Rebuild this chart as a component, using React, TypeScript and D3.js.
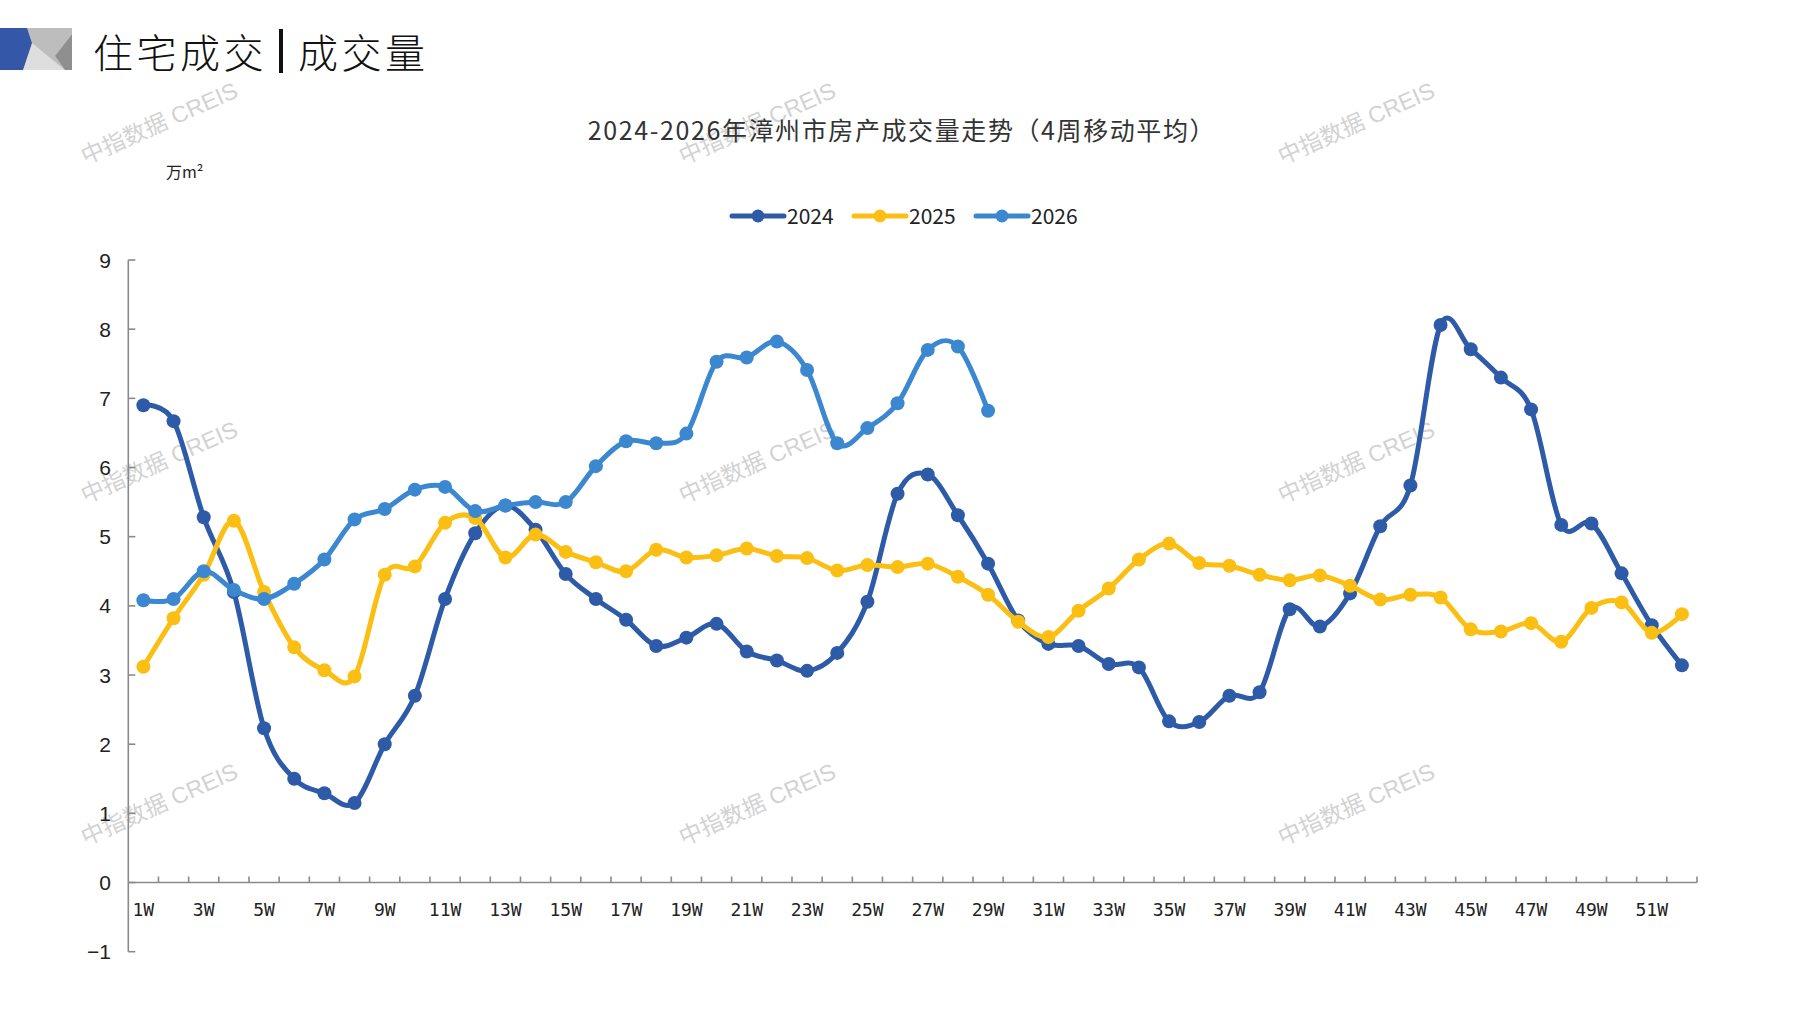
import React from 'react';
import * as d3 from 'd3';

const weeks = ['1W','2W','3W','4W','5W','6W','7W','8W','9W','10W','11W','12W','13W','14W','15W','16W','17W','18W','19W','20W','21W','22W','23W','24W','25W','26W','27W','28W','29W','30W','31W','32W','33W','34W','35W','36W','37W','38W','39W','40W','41W','42W','43W','44W','45W','46W','47W','48W','49W','50W','51W','52W'];

const s2024 = [6.9,6.67,5.28,4.2,2.23,1.5,1.29,1.15,2.0,2.7,4.1,5.05,5.45,5.1,4.46,4.1,3.8,3.42,3.54,3.74,3.34,3.21,3.06,3.32,4.06,5.62,5.9,5.31,4.61,3.79,3.45,3.42,3.16,3.11,2.33,2.32,2.7,2.75,3.95,3.7,4.18,5.15,5.74,8.06,7.71,7.3,6.84,5.17,5.19,4.47,3.72,3.14];
const s2025 = [3.12,3.82,4.45,5.23,4.2,3.4,3.07,2.98,4.45,4.57,5.2,5.27,4.7,5.03,4.78,4.63,4.5,4.81,4.7,4.73,4.83,4.72,4.69,4.51,4.59,4.56,4.61,4.42,4.16,3.77,3.55,3.93,4.25,4.67,4.9,4.62,4.58,4.45,4.37,4.44,4.29,4.09,4.16,4.12,3.66,3.63,3.75,3.48,3.97,4.05,3.61,3.88];
const s2026 = [4.08,4.1,4.5,4.23,4.1,4.32,4.67,5.25,5.4,5.68,5.72,5.37,5.45,5.5,5.5,6.02,6.38,6.35,6.49,7.53,7.59,7.82,7.41,6.35,6.57,6.93,7.7,7.75,6.82];

const seriesNames = ['2024','2025','2026'];
const seriesColors = ['#2D5BA8','#FBBF14','#3C88D0'];
const seriesData = [s2024, s2025, s2026];

const yTicks = [-1,0,1,2,3,4,5,6,7,8,9];
const xLabelWeeks = ['1W','3W','5W','7W','9W','11W','13W','15W','17W','19W','21W','23W','25W','27W','29W','31W','33W','35W','37W','39W','41W','43W','45W','47W','49W','51W'];

const watermarkX = [160, 758, 1357];
const watermarkY = [125, 464, 806];

const W = 1797, H = 1010;

export default function App() {
  const x = d3.scaleBand<string>().domain(weeks).range([128.3, 1697]).paddingInner(0).paddingOuter(0);
  const y = d3.scaleLinear().domain([-1, 9]).range([951.7, 260]);
  const cx = (w: string) => (x(w) as number) + x.bandwidth() / 2;
  const line = d3.line<number>().x((_, i) => cx(weeks[i])).y(d => y(d)).curve(d3.curveCardinal.tension(0));

  const axisColor = '#8a8a8a';
  const x0 = 128.3;
  const boundaries = weeks.map(w => (x(w) as number) + x.bandwidth());

  const legendX = [732, 854, 976];

  return (
    <svg width={W} height={H} style={{ position: 'absolute', left: 0, top: 0, background: '#fff' }}
      xmlns="http://www.w3.org/2000/svg">
      <rect x={0} y={0} width={W} height={H} fill="#fff" />
      {/* header decoration */}
      <g>
        <rect x={23} y={28} width={49} height={42} fill="#dedede" />
        <polygon points="27,28 72,28 72,34 55,56 65,70 32,43" fill="#bdbdbd" />
        <polygon points="72,34 72,70 65,70 55,56" fill="#8f8f8f" />
        <polygon points="0,28 27,28 32,43 23,70 0,70" fill="#3557A8" />
      </g>
      <text x={93} y={68} fontFamily="'Noto Sans CJK SC'" fontSize={40} fontWeight={300} letterSpacing={3.5} fill="#111">住宅成交</text>
      <rect x={279} y={29} width={4} height={44} fill="#111" />
      <text x={298} y={68} fontFamily="'Noto Sans CJK SC'" fontSize={40} fontWeight={300} letterSpacing={3.5} fill="#111">成交量</text>

      {/* watermarks */}
      {watermarkY.map((wy, i) => watermarkX.map((wx, j) => (
        <text key={`wm${i}-${j}`} x={wx} y={wy} textAnchor="middle" dominantBaseline="middle"
          transform={`rotate(-24 ${wx} ${wy})`} fontFamily="'Liberation Sans', 'Noto Sans CJK SC'" fontSize={23}
          fill="#c4c4c4" opacity={0.75}>中指数据 CREIS</text>
      )))}

      {/* chart title */}
      <text x={902} y={140} textAnchor="middle" fontFamily="'Noto Sans CJK SC'" fontSize={25} fill="#333"
        letterSpacing={1.6}>2024-2026年漳州市房产成交量走势（4周移动平均）</text>

      {/* unit */}
      <text x={166} y={178} fontFamily="'Noto Sans CJK SC'" fontSize={16} fill="#222">万m²</text>

      {/* legend */}
      {seriesNames.map((n, i) => (
        <g key={`lg${n}`}>
          <line x1={legendX[i]} x2={legendX[i] + 52} y1={216} y2={216} stroke={seriesColors[i]} strokeWidth={5} strokeLinecap="round" />
          <circle cx={legendX[i] + 26} cy={216} r={6.5} fill={seriesColors[i]} />
          <text x={legendX[i] + 55} y={224} fontFamily="'Noto Sans CJK SC'" fontSize={21} fill="#222">{n}</text>
        </g>
      ))}

      {/* y axis */}
      <line x1={x0} x2={x0} y1={y(9)} y2={y(-1)} stroke={axisColor} strokeWidth={1.6} />
      {yTicks.map(t => (
        <g key={`yt${t}`}>
          <line x1={x0} x2={x0 + 7} y1={y(t)} y2={y(t)} stroke={axisColor} strokeWidth={1.6} />
          <text x={111} y={y(t)} textAnchor="end" dominantBaseline="central" fontFamily="'Liberation Sans', Arial"
            fontSize={21} fill="#222">{t < 0 ? `\u2212${-t}` : `${t}`}</text>
        </g>
      ))}

      {/* x axis */}
      <line x1={x0} x2={1697} y1={y(0)} y2={y(0)} stroke={axisColor} strokeWidth={1.6} />
      {boundaries.map((b, i) => (
        <line key={`xt${i}`} x1={b} x2={b} y1={y(0)} y2={y(0) - 6} stroke={axisColor} strokeWidth={1.6} />
      ))}
      {xLabelWeeks.map(w => (
        <text key={`xl${w}`} x={cx(w)} y={916} textAnchor="middle" fontFamily="'DejaVu Sans Mono'" fontSize={18}
          fill="#222">{w}</text>
      ))}

      {/* series */}
      {seriesData.map((d, i) => (
        <g key={`s${i}`}>
          <path d={line(d) || ''} fill="none" stroke={seriesColors[i]} strokeWidth={5} strokeLinejoin="round" strokeLinecap="round" />
          {d.map((v, k) => (
            <circle key={k} cx={cx(weeks[k])} cy={y(v)} r={7} fill={seriesColors[i]} />
          ))}
        </g>
      ))}
    </svg>
  );
}
